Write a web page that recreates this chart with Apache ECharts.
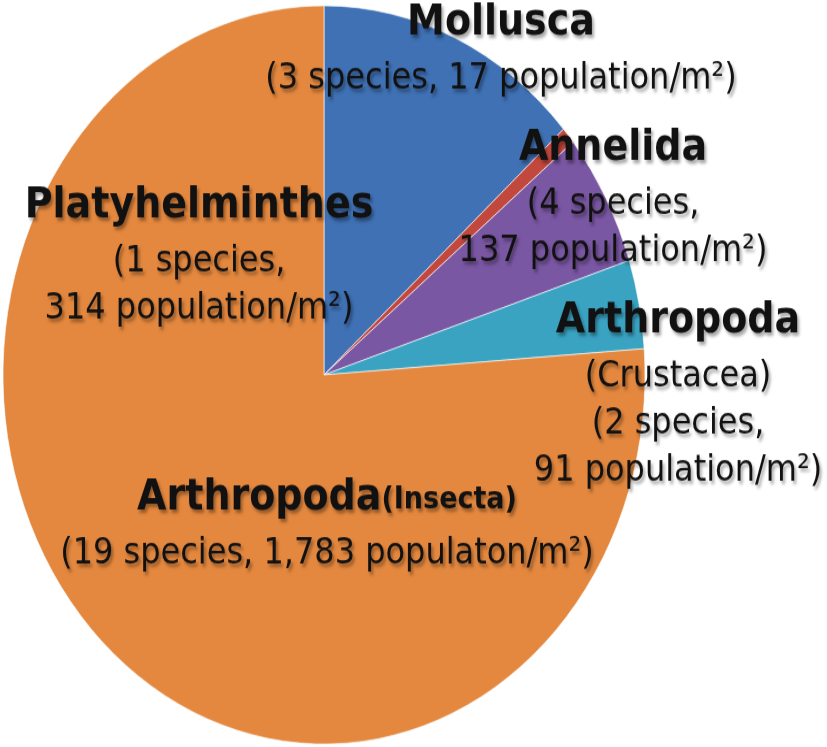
<!DOCTYPE html>
<html>
<head>
<meta charset="utf-8">
<script src="https://cdn.jsdelivr.net/npm/echarts@6/dist/echarts.min.js"></script>
<style>
  html, body { margin: 0; padding: 0; background: #fff; overflow: hidden; }
  #wrap { width: 827px; height: 747px; overflow: hidden; }
  #chart { width: 827px; height: 650px; transform: scaleY(1.15); transform-origin: 0 0; }
</style>
</head>
<body>
<div id="wrap"><div id="chart"></div></div>
<script>
// Slices clockwise from 12 o'clock
const categories = ['Platyhelminthes', 'Mollusca', 'Annelida', 'Arthropoda (Crustacea)', 'Arthropoda (Insecta)'];
const populations = [314, 17, 137, 91, 1783];
const species = [1, 3, 4, 2, 19];
const colors = ['#3f71b4', '#c2473d', '#7a57a3', '#3aa3c2', '#e4883f'];
const labelTexts = [
  '{t|Platyhelminthes}\n{s|(1 species,}\n{s|314 population/m²)}',
  '{t|Mollusca}\n{s|(3 species, 17 population/m²)}',
  '{t|Annelida}\n{s|(4 species,}\n{s|137 population/m²)}',
  '{t|Arthropoda}\n{s|(Crustacea)}\n{s|(2 species,}\n{s|91 population/m²)}',
  '{t|Arthropoda}{u|(Insecta)}\n{s|(19 species, 1,783 populaton/m²)}'
];
// label anchor (x centre, y top) in unscaled chart pixels
const labelPos = [[199, 151], [501, -8], [613, 101], [678, 251], [327, 405]];

const chart = echarts.init(document.getElementById('chart'), null, { renderer: 'canvas' });
const shadow = { textShadowColor: 'rgba(0,0,0,0.35)', textShadowBlur: 3, textShadowOffsetX: 2, textShadowOffsetY: 3 };
chart.setOption({
  animation: false,
  series: [{
    type: 'pie',
    center: [324, 326],
    radius: [0, 321],
    startAngle: 90,
    clockwise: true,
    avoidLabelOverlap: false,
    emphasis: { disabled: true },
    itemStyle: { borderColor: 'rgba(255,255,255,0.6)', borderWidth: 1 },
    labelLine: { show: false },
    label: {
      show: true,
      position: 'outside',
      formatter: p => labelTexts[p.dataIndex],
      align: 'center',
      rich: {
        t: Object.assign({ fontFamily: 'DejaVu Sans', fontWeight: 'bold', fontSize: 38, lineHeight: 56, color: '#111', align: 'center' }, shadow),
        u: Object.assign({ fontFamily: 'DejaVu Sans', fontWeight: 'bold', fontSize: 27, lineHeight: 56, color: '#111', verticalAlign: 'bottom', padding: [0, 0, 13, 0] }, shadow),
        s: Object.assign({ fontFamily: 'DejaVu Sans', fontSize: 32, lineHeight: 41, color: '#111', align: 'center' }, shadow)
      }
    },
    labelLayout: p => ({ x: labelPos[p.dataIndex][0], y: labelPos[p.dataIndex][1], align: 'center', verticalAlign: 'top' }),
    data: categories.map((c, i) => ({ name: c, value: populations[i], species: species[i], itemStyle: { color: colors[i] } }))
  }]
});
</script>
</body>
</html>
